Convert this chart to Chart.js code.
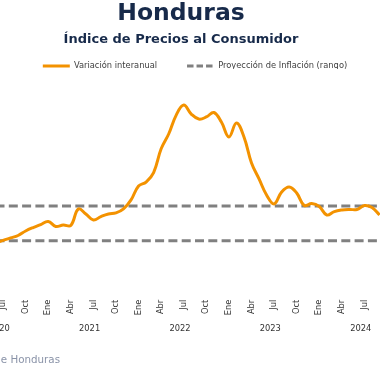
<!DOCTYPE html>
<html><head><meta charset="utf-8">
<script src="https://cdn.jsdelivr.net/npm/chart.js@4.4.1/dist/chart.umd.min.js"></script>
<style>
html,body{margin:0;padding:0;width:380px;height:380px;overflow:hidden;background:#fff;}
#wrap{position:absolute;left:-38px;top:0;width:438px;height:380px;}
#fuente{position:absolute;right:320px;top:353px;font:10.3px/12px 'DejaVu Sans';color:#8a93a8;white-space:nowrap;}
</style></head><body>
<div id="wrap"><canvas id="c" width="438" height="380"></canvas></div>
<div id="fuente">Fuente: Banco Central de Honduras</div>
<script>
// Meses (índice 0 = junio 2020)
const months = ['2020-06','2020-07','2020-08','2020-09','2020-10','2020-11','2020-12',
  '2021-01','2021-02','2021-03','2021-04','2021-05','2021-06','2021-07','2021-08','2021-09','2021-10','2021-11','2021-12',
  '2022-01','2022-02','2022-03','2022-04','2022-05','2022-06','2022-07','2022-08','2022-09','2022-10','2022-11','2022-12',
  '2023-01','2023-02','2023-03','2023-04','2023-05','2023-06','2023-07','2023-08','2023-09','2023-10','2023-11','2023-12',
  '2024-01','2024-02','2024-03','2024-04','2024-05','2024-06','2024-07','2024-08','2024-09'];
// Variación interanual (%)
const interanual = [2.87,3.02,3.16,3.30,3.56,3.76,3.93,
  4.11,3.82,3.90,3.88,4.83,4.54,4.19,4.39,4.54,4.60,4.83,5.35,
  6.15,6.38,6.93,8.30,9.15,10.24,10.82,10.30,10.01,10.13,10.39,9.84,
  8.98,9.78,8.98,7.48,6.56,5.63,5.12,5.81,6.10,5.75,5.03,5.14,
  4.97,4.48,4.68,4.77,4.80,4.80,5.03,4.91,4.48];
// Rango de proyección de inflación (%): inferior, superior
const rangoMeta = [3, 5];
const monthNames = ['Ene','Feb','Mar','Abr','May','Jun','Jul','Ago','Sep','Oct','Nov','Dic'];
const yearLabels = ['2020','2021','2022','2023','2024'];
const quarterMonths = ['01','04','07','10'];

const serie = interanual.map((v, i) => ({x: i, y: v}));
const last = months.length - 1;
const bandLine = v => [{x: 0, y: v}, {x: last, y: v}];

const monthTicks = months.map((m, i) => quarterMonths.includes(m.slice(5)) ? i : null).filter(v => v !== null);
const yearTicks = yearLabels.map(y => months.indexOf(y + '-06') + 0.5);

Chart.defaults.font.family = "'DejaVu Sans'";

const legendShift = {
  id: 'legendShift',
  afterLayout(chart) {
    const lg = chart.legend;
    if (!lg) return;
    lg.left += 14; lg.right += 14;
    const h = lg.height; lg.top = 31.85; lg.bottom = lg.top + h;
  }
};

new Chart(document.getElementById('c'), {
  type: 'line',
  data: {
    datasets: [
      {label: 'Variación interanual', data: serie, borderColor: '#f39200', backgroundColor: '#f39200',
       borderWidth: 3, pointRadius: 0, tension: 0.4, fill: false},
      {label: 'Proyección de Inflación (rango)', data: bandLine(rangoMeta[1]), borderColor: '#808080', backgroundColor: '#808080',
       borderWidth: 3, borderDash: [9, 4.3], pointRadius: 0, fill: false},
      {label: 'rango inferior', data: bandLine(rangoMeta[0]), borderColor: '#808080', backgroundColor: '#808080',
       borderWidth: 3, borderDash: [9, 4.3], pointRadius: 0, fill: false}
    ]
  },
  options: {
    responsive: false,
    animation: false,
    devicePixelRatio: 1,
    layout: {padding: {top: 0, bottom: 37.25, left: 0, right: 0}},
    plugins: {
      title: {display: true, text: 'Honduras', color: '#172a4a',
        font: {family: "'DejaVu Sans'", size: 23.5, weight: 'bold', lineHeight: 1.2}, padding: {top: 0, bottom: 0}},
      subtitle: {display: true, text: 'Índice de Precios al Consumidor', color: '#172a4a',
        font: {family: "'DejaVu Sans'", size: 13, weight: 'bold', lineHeight: 1.2}, padding: {top: 3.5, bottom: 0}},
      legend: {display: true, position: 'top', maxHeight: 37.25,
        labels: {usePointStyle: true, pointStyle: 'line', pointStyleWidth: 27, padding: 30, color: '#404040',
          font: {size: 8.3}, filter: item => item.datasetIndex !== 2,
          generateLabels: chart => Chart.defaults.plugins.legend.labels.generateLabels(chart).map(item => {
            if (chart.data.datasets[item.datasetIndex].borderDash) item.lineDash = [6.5, 3];
            return item;
          })}},
      tooltip: {enabled: false}
    },
    scales: {
      x: {type: 'linear', position: 'bottom', min: -4.449, max: 53.72,
        grid: {display: false, drawTicks: false}, border: {display: false},
        afterBuildTicks: s => { s.ticks = monthTicks.map(v => ({value: v})); },
        afterFit: s => { s.height = 30; },
        ticks: {autoSkip: false, minRotation: 90, maxRotation: 90, padding: 7, color: '#333', font: {size: 8.3},
          callback: v => monthNames[parseInt(months[v].slice(5), 10) - 1]}},
      years: {type: 'linear', position: 'bottom', min: -4.449, max: 53.72,
        grid: {display: false, drawTicks: false}, border: {display: false},
        afterBuildTicks: s => { s.ticks = yearTicks.map(v => ({value: v})); },
        afterFit: s => { s.height = 20; },
        ticks: {autoSkip: false, minRotation: 0, maxRotation: 0, padding: 1.25, color: '#333', font: {size: 8.3},
          callback: v => yearLabels[yearTicks.indexOf(v)]}},
      y: {display: false, min: 0, max: 12}
    }
  },
  plugins: [legendShift]
});
</script>
</body></html>
